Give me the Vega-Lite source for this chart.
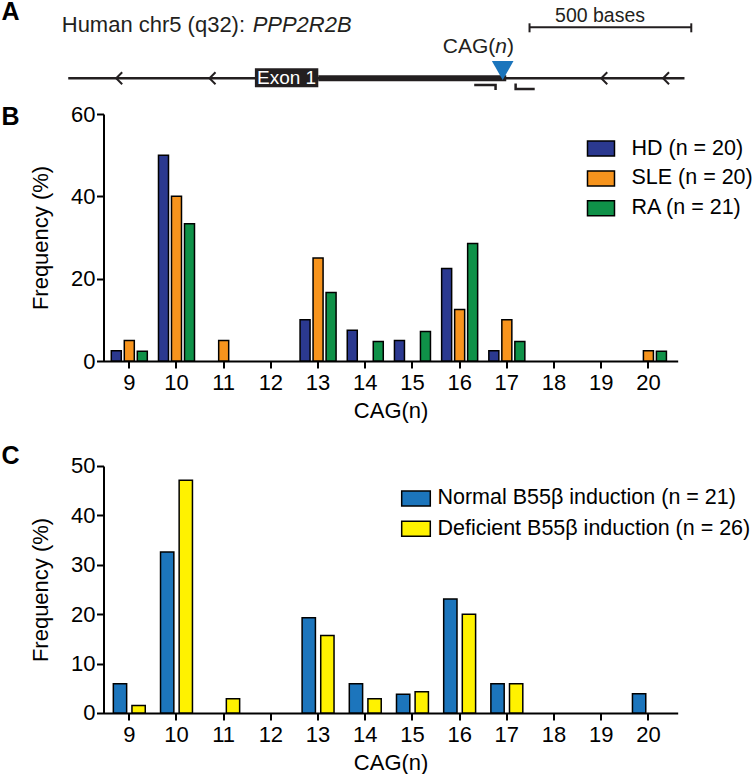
{
  "$schema": "https://vega.github.io/schema/vega-lite/v6.json",
  "padding": {"left": 1.5, "top": 0, "right": 0, "bottom": 0},
  "spacing": 22,
  "resolve": {"scale": {"color": "independent", "xOffset": "independent"}, "legend": {"color": "independent"}},
  "config": {
    "font": "Liberation Sans",
    "view": {"stroke": null},
    "axis": {"domainColor": "#000", "domainWidth": 2, "tickColor": "#000", "tickWidth": 2, "tickSize": 7, "labelFontSize": 22, "labelColor": "#000", "titleFontSize": 22, "titleFontWeight": "normal", "titleColor": "#000", "grid": false},
    "axisX": {"labelAngle": 0, "labelPadding": 5, "titlePadding": 6.5},
    "axisY": {"labelPadding": 1.5, "titlePadding": 18}
  },
  "vconcat": [
    {
      "width": 574.2,
      "height": 247,
      "layer": [
        {
          "data": {"values": [
            {"cag": 9, "group": "HD (n = 20)", "freq": 2.5},
            {"cag": 9, "group": "SLE (n = 20)", "freq": 5},
            {"cag": 9, "group": "RA (n = 21)", "freq": 2.38},
            {"cag": 10, "group": "HD (n = 20)", "freq": 50},
            {"cag": 10, "group": "SLE (n = 20)", "freq": 40},
            {"cag": 10, "group": "RA (n = 21)", "freq": 33.33},
            {"cag": 11, "group": "SLE (n = 20)", "freq": 5},
            {"cag": 13, "group": "HD (n = 20)", "freq": 10},
            {"cag": 13, "group": "SLE (n = 20)", "freq": 25},
            {"cag": 13, "group": "RA (n = 21)", "freq": 16.67},
            {"cag": 14, "group": "HD (n = 20)", "freq": 7.5},
            {"cag": 14, "group": "RA (n = 21)", "freq": 4.76},
            {"cag": 15, "group": "HD (n = 20)", "freq": 5},
            {"cag": 15, "group": "RA (n = 21)", "freq": 7.14},
            {"cag": 16, "group": "HD (n = 20)", "freq": 22.5},
            {"cag": 16, "group": "SLE (n = 20)", "freq": 12.5},
            {"cag": 16, "group": "RA (n = 21)", "freq": 28.57},
            {"cag": 17, "group": "HD (n = 20)", "freq": 2.5},
            {"cag": 17, "group": "SLE (n = 20)", "freq": 10},
            {"cag": 17, "group": "RA (n = 21)", "freq": 4.76},
            {"cag": 20, "group": "SLE (n = 20)", "freq": 2.5},
            {"cag": 20, "group": "RA (n = 21)", "freq": 2.38}
          ]},
          "mark": {"type": "bar", "stroke": "#000", "strokeWidth": 1.5},
          "encoding": {
            "x": {"field": "cag", "type": "ordinal", "scale": {"domain": [9,10,11,12,13,14,15,16,17,18,19,20], "paddingInner": 0, "paddingOuter": 0.0835, "align": 0.28}, "axis": {"title": "CAG(n)"}},
            "xOffset": {"field": "group", "type": "nominal", "scale": {"domain": ["HD (n = 20)", "SLE (n = 20)", "RA (n = 21)"], "paddingInner": 0.23, "paddingOuter": 0.43}},
            "y": {"field": "freq", "type": "quantitative", "scale": {"domain": [0, 60], "nice": false}, "axis": {"values": [0, 20, 40, 60], "title": "Frequency (%)"}},
            "color": {"field": "group", "type": "nominal", "scale": {"domain": ["HD (n = 20)", "SLE (n = 20)", "RA (n = 21)"], "range": ["#2b3990", "#f7941d", "#0f9148"]},
              "legend": {"title": null, "orient": "none", "direction": "vertical", "legendX": 483, "legendY": 20, "symbolType": "M-1,-0.556H1V0.556H-1Z", "symbolSize": 729, "symbolStrokeColor": "#000", "symbolStrokeWidth": 1.5, "labelFontSize": 21.5, "labelColor": "#000", "labelOffset": 16, "rowPadding": 3.9, "padding": 0, "labelLimit": 0}}
          }
        },
        {
          "encoding": {
            "x": {"field": "x", "type": "quantitative", "scale": {"domain": [0, 1775], "nice": false, "zero": false}, "axis": null},
            "y": {"field": "y", "type": "quantitative", "scale": {"domain": [-28.27, -3.57], "nice": false, "zero": false}, "axis": null}
          },
          "layer": [
            {
              "data": {"values": [{"x": -109, "x2": 1796, "y": 0}]},
              "mark": {"type": "rule", "color": "#231f20", "strokeWidth": 2.5},
              "encoding": {"x2": {"field": "x2"}}
            },
            {
              "data": {"values": [{"x": 664, "x2": 1245, "y": 0}]},
              "mark": {"type": "rule", "color": "#231f20", "strokeWidth": 6},
              "encoding": {"x2": {"field": "x2"}}
            },
            {
              "data": {"values": [{"x": 468, "x2": 664, "y": 1.0, "y2": -0.9}]},
              "mark": {"type": "rect", "color": "#231f20"},
              "encoding": {"x2": {"field": "x2"}, "y2": {"field": "y2"}}
            },
            {
              "data": {"values": [{"x": 566, "y": 0.02, "t": "Exon 1"}]},
              "mark": {"type": "text", "color": "#fff", "fontSize": 19, "align": "center", "baseline": "middle"},
              "encoding": {"text": {"field": "t"}}
            },
            {
              "data": {"values": [{"x": 48.5, "y": 0}, {"x": 337, "y": 0}, {"x": 1548, "y": 0}, {"x": 1739, "y": 0}]},
              "mark": {"type": "point", "shape": "M0.5,-1L-0.5,0L0.5,1", "filled": false, "size": 144, "color": "#231f20", "strokeWidth": 2, "opacity": 1}
            },
            {
              "data": {"values": [{"x": 1234, "y": 0.78}]},
              "mark": {"type": "point", "shape": "M-1,-0.88L1,-0.88L0,0.88Z", "filled": true, "size": 467, "color": "#1b75bc", "opacity": 1}
            },
            {
              "data": {"values": [
                {"primer": "F", "step": 1, "x": 1146, "y": -0.67},
                {"primer": "F", "step": 2, "x": 1212, "y": -0.67},
                {"primer": "F", "step": 3, "x": 1212, "y": -1.17},
                {"primer": "R", "step": 1, "x": 1274, "y": -0.52},
                {"primer": "R", "step": 2, "x": 1274, "y": -1.07},
                {"primer": "R", "step": 3, "x": 1333, "y": -1.07}
              ]},
              "mark": {"type": "line", "color": "#231f20", "strokeWidth": 2.5},
              "encoding": {"detail": {"field": "primer"}, "order": {"field": "step"}}
            },
            {
              "data": {"values": [{"x": 1317, "x2": 1817, "y": 5.1}]},
              "mark": {"type": "rule", "color": "#231f20", "strokeWidth": 2},
              "encoding": {"x2": {"field": "x2"}}
            },
            {
              "data": {"values": [{"x": 1317, "y": 4.6, "y2": 5.5}, {"x": 1817, "y": 4.6, "y2": 5.5}]},
              "mark": {"type": "rule", "color": "#231f20", "strokeWidth": 2},
              "encoding": {"y2": {"field": "y2"}}
            },
            {
              "data": {"values": [{"x": -129, "y": 4.66, "t": "Human chr5 (q32):"}]},
              "mark": {"type": "text", "color": "#231f20", "fontSize": 22, "align": "left", "baseline": "alphabetic"},
              "encoding": {"text": {"field": "t"}}
            },
            {
              "data": {"values": [{"x": 461, "y": 4.66, "t": "PPP2R2B"}]},
              "mark": {"type": "text", "color": "#231f20", "fontSize": 22, "fontStyle": "italic", "align": "left", "baseline": "alphabetic"},
              "encoding": {"text": {"field": "t"}}
            },
            {
              "data": {"values": [{"x": -315, "y": 5.8, "t": "A"}, {"x": -315, "y": -4.67, "t": "B"}]},
              "mark": {"type": "text", "color": "#000", "fontSize": 25, "fontWeight": "bold", "align": "left", "baseline": "alphabetic"},
              "encoding": {"text": {"field": "t"}}
            },
            {
              "data": {"values": [{"x": 1535, "y": 5.66, "t": "500 bases"}]},
              "mark": {"type": "text", "color": "#231f20", "fontSize": 19.5, "align": "center", "baseline": "alphabetic"},
              "encoding": {"text": {"field": "t"}}
            },
            {
              "data": {"values": [{"x": 1211, "y": 2.55, "t": "CAG("}]},
              "mark": {"type": "text", "color": "#231f20", "fontSize": 21, "align": "right", "baseline": "alphabetic"},
              "encoding": {"text": {"field": "t"}}
            },
            {
              "data": {"values": [{"x": 1211, "y": 2.55, "t": "n"}]},
              "mark": {"type": "text", "color": "#231f20", "fontSize": 21, "fontStyle": "italic", "align": "left", "baseline": "alphabetic"},
              "encoding": {"text": {"field": "t"}}
            },
            {
              "data": {"values": [{"x": 1247, "y": 2.55, "t": ")"}]},
              "mark": {"type": "text", "color": "#231f20", "fontSize": 21, "align": "left", "baseline": "alphabetic"},
              "encoding": {"text": {"field": "t"}}
            }
          ]
        }
      ],
      "resolve": {"scale": {"x": "independent", "y": "independent"}}
    },
    {
      "width": 574.2,
      "height": 247,
      "title": {"text": "C", "anchor": "start", "frame": "group", "dx": -102, "offset": -14, "fontSize": 25, "fontWeight": "bold", "color": "#000"},
      "data": {"values": [
        {"cag": 9, "group": "Normal B55β induction (n = 21)", "freq": 5.9},
        {"cag": 9, "group": "Deficient B55β induction (n = 26)", "freq": 1.5},
        {"cag": 10, "group": "Normal B55β induction (n = 21)", "freq": 32.6},
        {"cag": 10, "group": "Deficient B55β induction (n = 26)", "freq": 47.1},
        {"cag": 11, "group": "Deficient B55β induction (n = 26)", "freq": 2.9},
        {"cag": 13, "group": "Normal B55β induction (n = 21)", "freq": 19.3},
        {"cag": 13, "group": "Deficient B55β induction (n = 26)", "freq": 15.7},
        {"cag": 14, "group": "Normal B55β induction (n = 21)", "freq": 5.9},
        {"cag": 14, "group": "Deficient B55β induction (n = 26)", "freq": 2.9},
        {"cag": 15, "group": "Normal B55β induction (n = 21)", "freq": 3.8},
        {"cag": 15, "group": "Deficient B55β induction (n = 26)", "freq": 4.3},
        {"cag": 16, "group": "Normal B55β induction (n = 21)", "freq": 23.1},
        {"cag": 16, "group": "Deficient B55β induction (n = 26)", "freq": 20},
        {"cag": 17, "group": "Normal B55β induction (n = 21)", "freq": 5.9},
        {"cag": 17, "group": "Deficient B55β induction (n = 26)", "freq": 5.9},
        {"cag": 20, "group": "Normal B55β induction (n = 21)", "freq": 3.9}
      ]},
      "mark": {"type": "bar", "stroke": "#000", "strokeWidth": 1.5},
      "encoding": {
        "x": {"field": "cag", "type": "ordinal", "scale": {"domain": [9,10,11,12,13,14,15,16,17,18,19,20], "paddingInner": 0, "paddingOuter": 0.0835, "align": 0.28}, "axis": {"title": "CAG(n)"}},
        "xOffset": {"field": "group", "type": "nominal", "scale": {"domain": ["Normal B55β induction (n = 21)", "Deficient B55β induction (n = 26)"], "paddingInner": 0.285, "paddingOuter": 0.41}},
        "y": {"field": "freq", "type": "quantitative", "scale": {"domain": [0, 50], "nice": false}, "axis": {"values": [0, 10, 20, 30, 40, 50], "title": "Frequency (%)"}},
        "color": {"field": "group", "type": "nominal", "scale": {"domain": ["Normal B55β induction (n = 21)", "Deficient B55β induction (n = 26)"], "range": ["#1c75bc", "#fff200"]},
          "legend": {"title": null, "orient": "none", "direction": "vertical", "legendX": 297, "legendY": 17, "symbolType": "M-1,-0.52H1V0.52H-1Z", "symbolSize": 818, "symbolStrokeColor": "#000", "symbolStrokeWidth": 1.5, "labelFontSize": 21.5, "labelColor": "#000", "labelOffset": 6, "rowPadding": 4.2, "padding": 0, "labelLimit": 0}}
      }
    }
  ]
}
